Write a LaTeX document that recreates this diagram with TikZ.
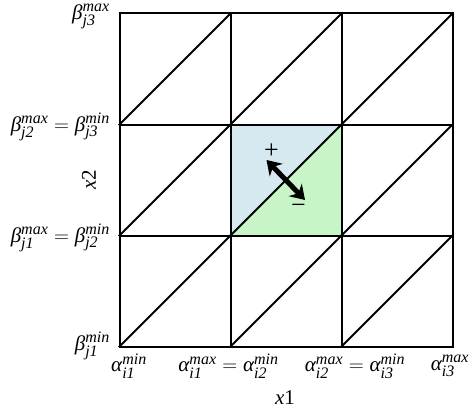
\documentclass[tikz,border=0pt]{standalone}
\usepackage{amsmath}
\usepackage{fontspec}
\setmainfont{Liberation Serif}
\newfontfamily\tms{Liberation Serif}
\usetikzlibrary{arrows.meta}
\DeclareMathSizes{21}{21}{16}{12}
\newcommand{\lbl}[3]{\text{\tms\itshape #1}^{\text{\tms\itshape #2}}_{\text{\tms\itshape #3}}}
\definecolor{cellblue}{RGB}{214,232,240}
\definecolor{cellgreen}{RGB}{199,245,199}
\tikzset{
  gridline/.style={line width=2pt, line cap=rect},
  lab/.style={inner sep=0pt, font=\tms\fontsize{21}{25}\selectfont},
  sign/.style={inner sep=0pt, font=\tms\fontsize{26}{30}\selectfont},
  bigarrow/.style={line width=5pt, {Stealth[length=14pt,width=18pt]}-{Stealth[length=14pt,width=18pt]}}
}
\begin{document}
\begin{tikzpicture}[x=1pt,y=-1pt]
\useasboundingbox (0,0) rectangle (471,412);
\def\X{119.5}\def\Y{13.5}\def\c{111}
% coloured cell
\fill[cellblue] (230.5,124.5) -- (230.5,235.5) -- (341.5,124.5) -- cycle;
\fill[cellgreen] (230.5,235.5) -- (341.5,235.5) -- (341.5,124.5) -- cycle;
% grid
\foreach \i in {0,1,2,3}{
  \draw[gridline] ({\X+\c*\i},\Y) -- ({\X+\c*\i},{\Y+3*\c});
  \draw[gridline] (\X,{\Y+\c*\i}) -- ({\X+3*\c},{\Y+\c*\i});
}
\foreach \i in {0,1,2}{
  \foreach \j in {0,1,2}{
    \draw[gridline] ({\X+\c*\i},{\Y+\c*(\j+1)}) -- ({\X+\c*(\i+1)},{\Y+\c*\j});
  }
}
% arrow
\coordinate (aplus) at (266.5,160);
\coordinate (aminus) at (305,200);
\draw[bigarrow] (aplus) -- (aminus);
\node[sign] (plus) at (271.5,151) {+};
\node[sign] (minus) at (298.5,209) {−};
% y labels
\node[lab, anchor=east] (b3) at (110,16) {$\lbl{β}{max}{j3}$};
\node[lab, anchor=east] (b2) at (110,126.5) {$\lbl{β}{max}{j2} = \lbl{β}{min}{j3}$};
\node[lab, anchor=east] (b1) at (110,237.5) {$\lbl{β}{max}{j1} = \lbl{β}{min}{j2}$};
\node[lab, anchor=east] (b0) at (110,346) {$\lbl{β}{min}{j1}$};
\node[lab, rotate=90] (x2) at (89,180) {\itshape x\upshape 2};
% x labels
\node[lab] (a0) at (129,366) {$\lbl{α}{min}{i1}$};
\node[lab] (a1) at (228.5,366) {$\lbl{α}{max}{i1} = \lbl{α}{min}{i2}$};
\node[lab] (a2) at (355,366) {$\lbl{α}{max}{i2} = \lbl{α}{min}{i3}$};
\node[lab] (a3) at (450,366) {$\lbl{α}{max}{i3}$};
\node[lab] (x1) at (285,398) {\itshape x\upshape 1};
\end{tikzpicture}
\end{document}
